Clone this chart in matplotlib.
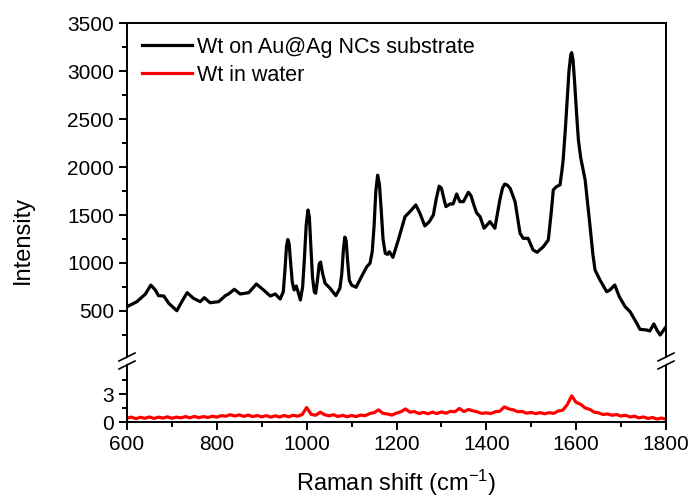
import matplotlib
matplotlib.use("Agg")
import matplotlib.pyplot as plt
from matplotlib.ticker import MultipleLocator, FixedLocator
from matplotlib.patches import Polygon

plt.rcParams['font.family'] = ['Liberation Sans', 'DejaVu Sans']
plt.rcParams['mathtext.fontset'] = 'custom'
plt.rcParams['mathtext.rm'] = 'Liberation Sans'
plt.rcParams['mathtext.it'] = 'Liberation Sans:italic'

# black spectrum (Wt on Au@Ag NCs substrate)
shift_sub = [600, 622, 641, 653, 663, 670, 682, 693, 711, 722, 734, 748, 763, 772,
             785, 804, 819, 826, 839, 852, 871, 888, 904, 919, 930, 941, 948, 952,
             955, 958, 961, 964, 968, 972, 977, 982, 986, 991, 995, 999, 1003, 1006,
             1009, 1013, 1017, 1020, 1024, 1028, 1031, 1035, 1041, 1052, 1065, 1074,
             1078, 1082, 1085, 1088, 1091, 1095, 1100, 1110, 1122, 1134, 1141, 1146,
             1150, 1154, 1158, 1162, 1166, 1170, 1175, 1180, 1184, 1192, 1204, 1219,
             1230, 1243, 1252, 1263, 1273, 1282, 1289, 1295, 1300, 1305, 1310, 1319,
             1326, 1334, 1341, 1349, 1360, 1366, 1371, 1378, 1386, 1395, 1408, 1419,
             1430, 1436, 1441, 1447, 1453, 1464, 1475, 1482, 1493, 1504, 1513, 1527,
             1538, 1545, 1549, 1556, 1564, 1568, 1571, 1576, 1580, 1584, 1588, 1590,
             1593, 1597, 1601, 1605, 1610, 1620, 1631, 1637, 1642, 1653, 1668, 1675,
             1686, 1696, 1709, 1720, 1735, 1742, 1757, 1764, 1773, 1780, 1787, 1793,
             1800]
int_sub = [545, 597, 677, 770, 719, 660, 656, 580, 503, 597, 691, 632, 597, 639,
           586, 597, 660, 677, 726, 677, 691, 781, 719, 656, 677, 625, 700, 950,
           1170, 1245, 1200, 1020, 800, 719, 760, 680, 615, 750, 1050, 1400, 1552, 1480,
           1200, 850, 700, 684, 820, 990, 1010, 900, 789, 737, 660, 737,
           880, 1150, 1270, 1230, 1030, 820, 770, 747, 857, 962, 997, 1120,
           1380, 1750, 1915, 1820, 1550, 1250, 1100, 1090, 1118, 1059, 1240, 1483,
           1535, 1605, 1520, 1386, 1430, 1500, 1680, 1800, 1780, 1680, 1587, 1615,
           1615, 1719, 1639, 1639, 1737, 1700, 1622, 1524, 1483, 1362, 1431, 1362,
           1656, 1780, 1823, 1810, 1778, 1639, 1310, 1257, 1257, 1136, 1112, 1170,
           1240, 1550, 1761, 1795, 1813, 1950, 2073, 2400, 2700, 3000, 3170, 3191,
           3120, 2850, 2550, 2280, 2100, 1865, 1378, 1100, 927, 823, 701, 719,
           771, 649, 545, 493, 372, 309, 302, 292, 365, 300, 250, 290,
           335]

# red spectrum (Wt in water), every 10 cm-1
shift_water = list(range(600, 1801, 10))
int_water = [0.42, 0.52, 0.36, 0.50, 0.40, 0.54, 0.38, 0.52, 0.42, 0.55,
             0.40, 0.52, 0.44, 0.58, 0.45, 0.60, 0.46, 0.58, 0.48, 0.62,
             0.52, 0.68, 0.62, 0.78, 0.64, 0.76, 0.60, 0.74, 0.58, 0.70,
             0.55, 0.68, 0.52, 0.66, 0.54, 0.70, 0.56, 0.72, 0.62, 0.80,
             1.55, 0.82, 0.72, 1.05, 0.78, 0.66, 0.78, 0.58, 0.72, 0.56,
             0.70, 0.58, 0.74, 0.68, 0.90, 1.00, 1.30, 0.92, 0.86, 0.74,
             0.95, 1.10, 1.40, 1.05, 1.12, 0.90, 1.04, 0.88, 1.06, 0.90,
             1.08, 0.94, 1.14, 1.10, 1.45, 1.12, 1.34, 1.20, 1.08, 0.92,
             0.98, 0.90, 1.10, 1.16, 1.62, 1.40, 1.30, 1.10, 1.12, 0.94,
             1.02, 0.90, 1.00, 0.88, 1.00, 0.92, 1.18, 1.26, 1.85, 2.80,
             2.10, 1.90, 1.50, 1.36, 1.06, 0.98, 0.80, 0.86, 0.72, 0.80,
             0.64, 0.72, 0.54, 0.62, 0.44, 0.54, 0.38, 0.48, 0.32, 0.42, 0.30]

W, H = 692, 498
fig = plt.figure(figsize=(W / 100, H / 100), dpi=100)

left, right, top, brk, bottom = 127, 666, 23, 359, 422
ax_top = fig.add_axes([left / W, 1 - brk / H, (right - left) / W, (brk - top) / H])
ax_bot = fig.add_axes([left / W, 1 - bottom / H, (right - left) / W, (bottom - brk) / H])

lw_sp = 1.4
for ax in (ax_top, ax_bot):
    for s in ax.spines.values():
        s.set_linewidth(lw_sp)
    ax.set_xlim(600, 1800)
    ax.tick_params(which='major', length=6, width=lw_sp, labelsize=15, direction='out')
    ax.tick_params(which='minor', length=3.5, width=lw_sp, direction='out')
    ax.tick_params(top=False, right=False)

ax_top.spines['bottom'].set_visible(False)
ax_bot.spines['top'].set_visible(False)

ax_top.plot(shift_sub, int_sub, color='black', lw=2.3, solid_joinstyle='round',
            label='Wt on Au@Ag NCs substrate')
ax_top.plot([], [], color='red', lw=2.3, label='Wt in water')
ax_bot.plot(shift_water, int_water, color='red', lw=2.3)

ax_top.set_ylim(0, 3500)
ax_top.yaxis.set_major_locator(FixedLocator([500, 1000, 1500, 2000, 2500, 3000, 3500]))
ax_top.yaxis.set_minor_locator(FixedLocator([250, 750, 1250, 1750, 2250, 2750, 3250]))
ax_top.tick_params(axis='x', which='both', bottom=False, labelbottom=False)

ax_bot.set_ylim(0, 6.75)
ax_bot.yaxis.set_major_locator(FixedLocator([0, 3]))
ax_bot.yaxis.set_minor_locator(FixedLocator([1.5, 4.5]))
ax_bot.xaxis.set_major_locator(MultipleLocator(200))
ax_bot.xaxis.set_minor_locator(MultipleLocator(100))
ax_bot.set_xlabel('Raman shift (cm$^{-1}$)', fontsize=17, labelpad=10)

fig.text(23 / W, 1 - 240 / H, 'Intensity', rotation=90, fontsize=17,
         ha='center', va='center')

leg = ax_top.legend(loc='upper left', frameon=False, fontsize=15.5,
                    handlelength=2.33, handletextpad=0.23, labelspacing=0.33,
                    borderpad=0, borderaxespad=0,
                    bbox_to_anchor=(15 / (right - left), 1 - 13.5 / (brk - top)))

# axis break marks
for xc in (left, right):
    yc = H - 361
    gap = Polygon([(xc - 8, yc - 7), (xc + 8, yc + 1), (xc + 8, yc + 7), (xc - 8, yc - 1)],
                  closed=True, facecolor='white', edgecolor='none',
                  transform=None, zorder=5)
    fig.patches.append(gap)
    for dy in (-4, 4):
        fig.lines.append(plt.Line2D([xc - 8, xc + 8], [yc - 4 + dy, yc + 4 + dy],
                                    color='black', lw=1.2, transform=None, zorder=6))

fig.savefig('out.png', dpi=100)
